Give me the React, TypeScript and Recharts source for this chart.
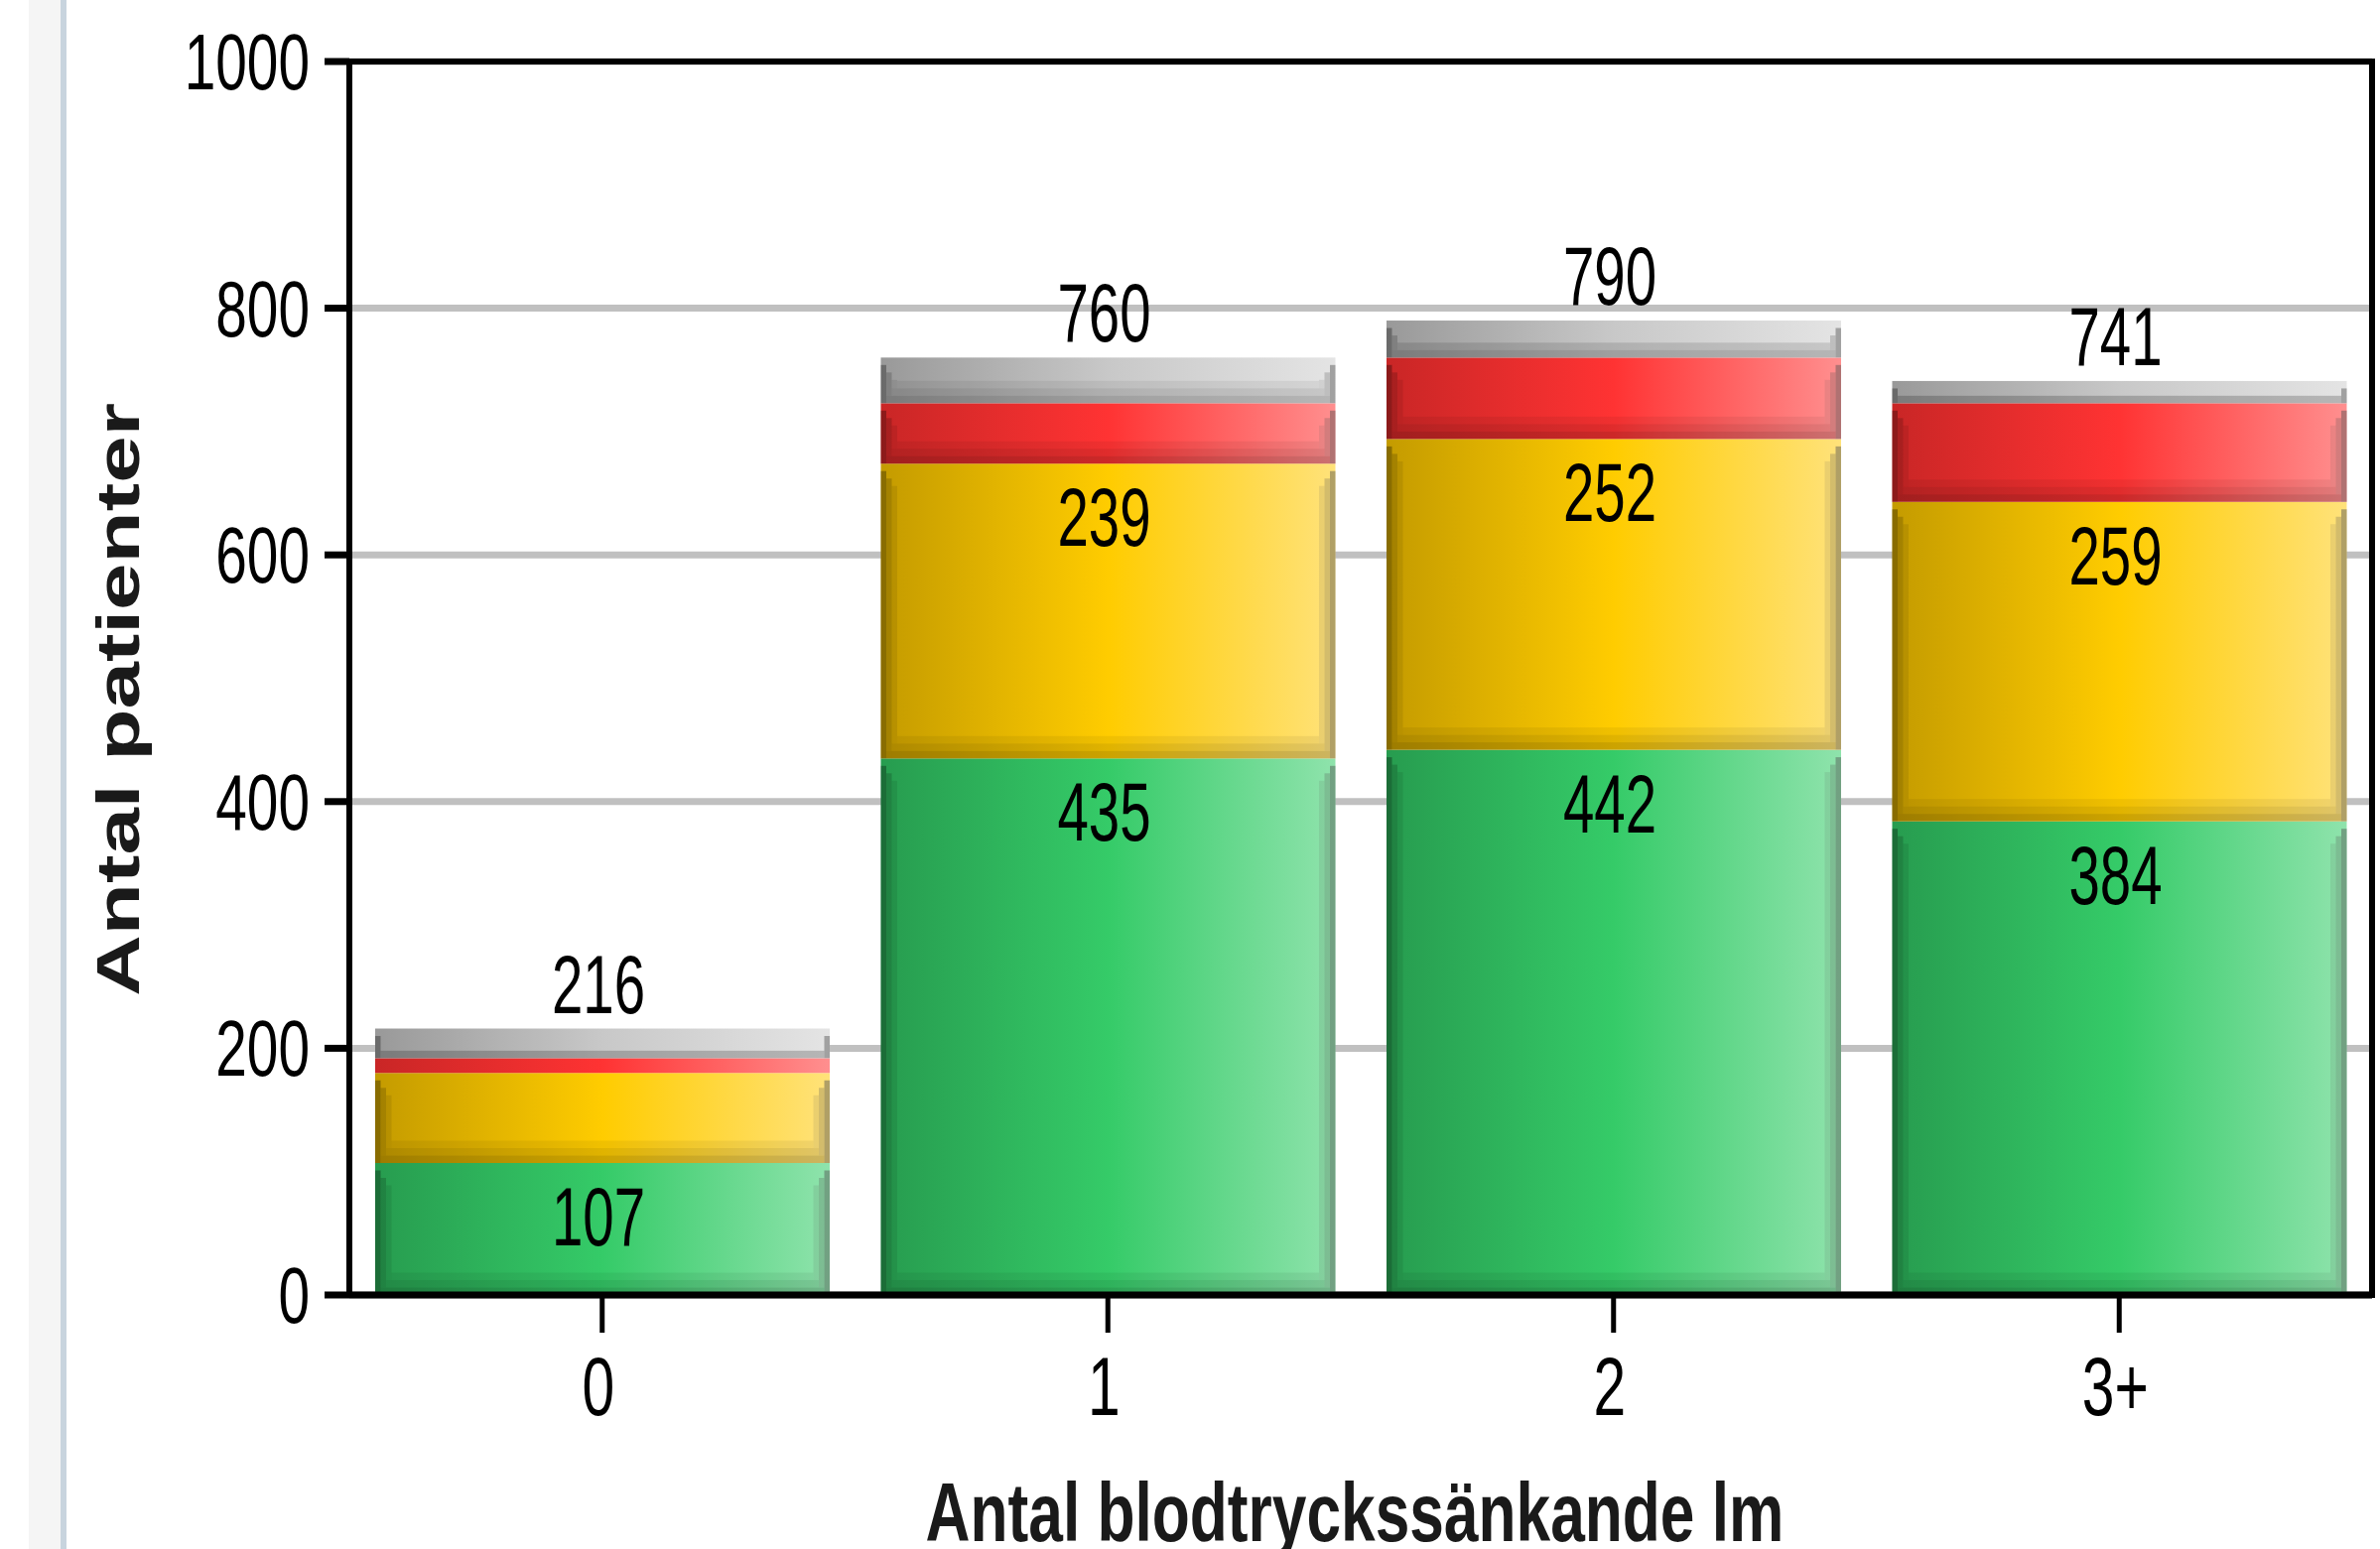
import React from 'react';
import { BarChart, Bar, XAxis, YAxis, CartesianGrid, LabelList, ReferenceArea } from 'recharts';

// values (patients per number of BP-lowering drugs)
const categories = ['0', '1', '2', '3+'];
const greenValues = [107, 435, 442, 384];
const yellowValues = [73, 239, 252, 259];
const redValues = [12, 49, 66, 80];
const greyValues = [24, 37, 30, 18];
const totals = [216, 760, 790, 741];
const yTicks = [0, 200, 400, 600, 800, 1000];

const data = categories.map((cat, i) => ({
    cat,
    green: greenValues[i],
    yellow: yellowValues[i],
    red: redValues[i],
    grey: greyValues[i],
    total: totals[i],
}));

const FONT = '"Liberation Sans", Arial, sans-serif';

// left / middle / right colours of each segment gradient
const palettes: Record<string, [string, string, string]> = {
    green: ['#279c4f', '#35cb68', '#8fe3ac'],
    yellow: ['#c49b00', '#ffcc00', '#ffe27a'],
    red: ['#c92626', '#ff3333', '#ff8f8f'],
    grey: ['#999999', '#c8c8c8', '#e4e4e4'],
};

const BevelBar = (props: any) => {
    const { x, y, width, height, tone } = props;
    if (!height || height <= 0) return null;
    const dx = 5.5;
    const dy = 7.5;
    const steps = Math.min(3, Math.floor(height / (2 * dy)));
    const leftA = [0.3, 0.17, 0.08];
    const bottomA = [0.2, 0.12, 0.06];
    const rightA = [0.45, 0.25, 0.12];
    const strips = [];
    for (let i = 0; i < steps; i++) {
        const top = y + (i + 1) * dy;
        const bottom = y + height - i * dy;
        strips.push(
            <g key={i}>
                <rect x={x + i * dx} y={top} width={dx} height={bottom - top} fill="#000" fillOpacity={leftA[i]} />
                <rect x={x + width - (i + 1) * dx} y={top} width={dx} height={bottom - top} fill="#505050" fillOpacity={rightA[i]} />
                <rect x={x + (i + 1) * dx} y={bottom - dy} width={width - 2 * (i + 1) * dx} height={dy} fill="#000" fillOpacity={bottomA[i]} />
            </g>
        );
    }
    return (
        <g>
            <rect x={x} y={y} width={width} height={height} fill={`url(#grad-${tone})`} />
            {strips}
        </g>
    );
};

const YTick = ({ x, y, payload }: any) => (
    <text
        transform={`translate(${x},${y + 28}) scale(0.71,1)`}
        textAnchor="end"
        fontFamily={FONT}
        fontSize={80}
        fill="#000"
    >
        {payload.value}
    </text>
);

const XTick = ({ x, y, payload }: any) => (
    <text
        transform={`translate(${x - 4},${y + 81}) scale(0.7,1)`}
        textAnchor="middle"
        fontFamily={FONT}
        fontSize={84}
        fill="#000"
    >
        {payload.value}
    </text>
);

const valueText = (cx: number, baseline: number, value: any) => (
    <text
        transform={`translate(${cx},${baseline}) scale(0.68,1)`}
        textAnchor="middle"
        fontFamily={FONT}
        fontSize={83}
        fill="#000"
    >
        {value}
    </text>
);

// labels inside the green / yellow segments, hidden for small ones
const InnerLabel = (props: any) => {
    const { x, y, width, value } = props;
    if (value == null || value < 100) return null;
    return valueText(x + width / 2 - 4, y + 83, value);
};

const TotalLabel = (props: any) => {
    const { x, y, width, value } = props;
    return valueText(x + width / 2 - 4, y - 16, value);
};

const YTitle = () => (
    <text
        transform="translate(140,705) rotate(-90) scale(1.4,1)"
        textAnchor="middle"
        fontFamily={FONT}
        fontWeight="bold"
        fontSize={61}
        fill="#1a1a1a"
    >
        Antal patienter
    </text>
);

const XTitle = () => (
    <text
        transform="translate(1365,1553) scale(0.75,1)"
        textAnchor="middle"
        fontFamily={FONT}
        fontWeight="bold"
        fontSize={83}
        fill="#1a1a1a"
    >
        Antal blodtryckssänkande lm
    </text>
);

export default function App() {
    return (
        <div style={{ position: 'fixed', left: 0, top: 0, width: 2398, height: 1561, background: '#fff', overflow: 'hidden' }}>
            <div style={{ position: 'absolute', left: 29, top: 0, width: 32, height: 1561, background: '#f5f5f5' }} />
            <div style={{ position: 'absolute', left: 61, top: 0, width: 6, height: 1561, background: '#c8d4de' }} />
            <div style={{ position: 'absolute', left: 0, top: 0 }}>
                <BarChart
                    width={2398}
                    height={1561}
                    data={data}
                    margin={{ top: 62, right: 8, bottom: 0, left: 0 }}
                    barCategoryGap={26}
                >
                    <defs>
                        {Object.keys(palettes).map((k) => (
                            <linearGradient key={k} id={`grad-${k}`} x1="0" y1="0" x2="1" y2="0">
                                <stop offset="0%" stopColor={palettes[k][0]} />
                                <stop offset="50%" stopColor={palettes[k][1]} />
                                <stop offset="100%" stopColor={palettes[k][2]} />
                            </linearGradient>
                        ))}
                    </defs>

                    <CartesianGrid vertical={false} stroke="#c0c0c0" strokeWidth={7} />

                    <XAxis
                        dataKey="cat"
                        height={256}
                        axisLine={{ stroke: '#000', strokeWidth: 7 }}
                        tickLine={{ stroke: '#000', strokeWidth: 5 }}
                        tickSize={38}
                        tickMargin={2}
                        tick={<XTick />}
                        interval={0}
                        label={{ content: () => <XTitle /> }}
                    />
                    <YAxis
                        width={352}
                        domain={[0, 1000]}
                        ticks={yTicks}
                        interval={0}
                        axisLine={{ stroke: '#000', strokeWidth: 5 }}
                        tickLine={{ stroke: '#000', strokeWidth: 7 }}
                        tickSize={25}
                        tickMargin={15}
                        tick={<YTick />}
                        label={{ content: () => <YTitle /> }}
                    />

                    <Bar dataKey="green" stackId="a" isAnimationActive={false} shape={(p: any) => <BevelBar {...p} tone="green" />}>
                        <LabelList dataKey="green" content={<InnerLabel />} />
                    </Bar>
                    <Bar dataKey="yellow" stackId="a" isAnimationActive={false} shape={(p: any) => <BevelBar {...p} tone="yellow" />}>
                        <LabelList dataKey="yellow" content={<InnerLabel />} />
                    </Bar>
                    <Bar dataKey="red" stackId="a" isAnimationActive={false} shape={(p: any) => <BevelBar {...p} tone="red" />} />
                    <Bar dataKey="grey" stackId="a" isAnimationActive={false} shape={(p: any) => <BevelBar {...p} tone="grey" />}>
                        <LabelList dataKey="total" content={<TotalLabel />} />
                    </Bar>

                    {/* plot frame (top and right border) */}
                    <ReferenceArea
                        x1={categories[0]}
                        x2={categories[categories.length - 1]}
                        y1={0}
                        y2={1000}
                        fill="none"
                        fillOpacity={0}
                        stroke="#000"
                        strokeWidth={6}
                        strokeOpacity={1}
                        ifOverflow="visible"
                    />
                </BarChart>
            </div>
        </div>
    );
}
